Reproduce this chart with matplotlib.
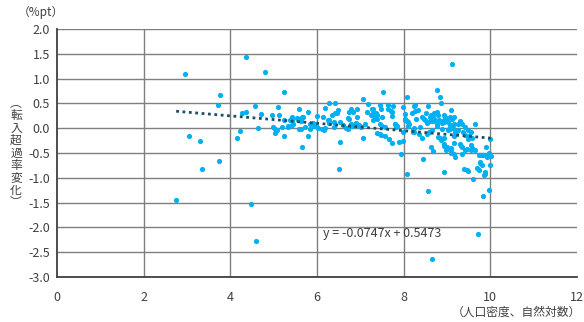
import matplotlib
matplotlib.use('Agg')
import matplotlib.pyplot as plt
import numpy as np

plt.rcParams['font.family'] = ['Noto Sans CJK JP', 'DejaVu Sans']

# scatter data: x = log population density, y = change in net in-migration rate (%pt)
density = [
    2.75, 2.95, 3.05, 3.31, 3.34, 3.71, 3.77, 3.75,
    4.15, 4.22, 4.28, 4.36, 4.37, 4.48, 4.58, 4.60, 4.63, 4.70, 4.80,
    4.96, 4.98, 5.03, 5.04, 5.07, 5.09, 5.12, 5.19, 5.24, 5.24, 5.24, 5.33, 5.42, 5.42, 5.55, 5.59, 5.59,
    5.34, 5.38, 5.44, 5.42, 5.54, 5.57, 5.64, 5.66, 5.63, 5.62, 5.65, 5.67,
    5.72, 5.79, 5.79, 5.83, 5.84, 5.91, 5.92, 5.98, 6.00,
    6.03, 6.12, 6.14, 6.15, 6.19, 6.19, 6.25, 6.27, 6.28, 6.28, 6.35, 6.41, 6.39, 6.39, 6.42, 6.46, 6.49,
    6.50, 6.52, 6.53, 6.59, 6.66, 6.72, 6.72, 6.73, 6.79, 6.82, 6.73, 6.78, 6.80,
    6.88, 6.90, 6.92, 6.92, 6.96, 6.98, 7.02, 7.06, 7.07, 7.10, 7.15, 7.18,
    7.25, 7.27, 7.29, 7.30, 7.30, 7.35, 7.36, 7.38, 7.39, 7.39, 7.45, 7.45, 7.45, 7.47, 7.47, 7.50, 7.50,
    7.53, 7.56, 7.56, 7.64, 7.64, 7.65, 7.70, 7.72, 7.72, 7.73, 7.76, 7.79, 7.81, 7.82, 7.84,
    7.90, 7.93, 7.98, 7.99, 7.99, 8.02, 8.04, 8.04, 8.07, 8.08, 8.08, 8.11, 8.11, 8.13, 8.19, 8.21, 8.22,
    8.24, 8.25, 8.25, 8.27, 8.27, 8.29, 8.32,
    8.36, 8.38, 8.43, 8.43, 8.45, 8.47, 8.49, 8.51, 8.54, 8.54, 8.55, 8.57, 8.58, 8.60, 8.61, 8.63, 8.63,
    8.65, 8.66, 8.67, 8.68, 8.68, 8.69, 8.72, 8.76, 8.77, 8.77, 8.77, 8.79, 8.80, 8.82, 8.84, 8.85, 8.86,
    8.86, 8.88, 8.88, 8.92, 8.92, 8.92, 8.93, 8.94, 8.94, 8.94, 8.95, 8.97, 9.00, 9.01,
    9.03, 9.03, 9.04, 9.06, 9.08, 9.08, 9.09, 9.09, 9.09, 9.10, 9.12, 9.12, 9.13, 9.15, 9.15, 9.15, 9.17,
    9.17, 9.18, 9.18, 9.22, 9.26, 9.26, 9.29, 9.31, 9.31, 9.33, 9.34, 9.34, 9.34, 9.38, 9.40, 9.41, 9.42,
    9.42, 9.46, 9.47, 9.49, 9.49, 9.49, 9.50, 9.55, 9.55, 9.56, 9.57, 9.57, 9.61, 9.65, 9.65, 9.69, 9.72,
    9.74, 9.75, 9.76, 9.77, 9.77, 9.80, 9.81, 9.83, 9.83, 9.85, 9.87, 9.88, 9.89, 9.90, 9.93, 9.96, 9.97,
    10.00, 10.02, 10.00,
]
migration_change = [
    -1.45, 1.09, -0.15, -0.25, -0.83, 0.47, 0.66, -0.67,
    -0.20, -0.05, 0.31, 0.32, 1.44, -1.53, 0.44, -2.28, 0.00, 0.28, 1.14,
    0.26, 0.03, -0.01, -0.10, -0.04, 0.42, 0.27, 0.03, 0.73, 0.17, -0.15, 0.03, 0.16, 0.07, 0.18, 0.39, -0.01,
    0.05, 0.16, 0.09, 0.22, 0.20, 0.17, 0.17, 0.22, 0.14, -0.01, -0.37, 0.23,
    0.02, 0.32, -0.16, 0.09, -0.01, 0.11, 0.05, 0.05, 0.25,
    0.01, -0.02, 0.22, -0.04, 0.00, 0.41, 0.17, 0.50, 0.11, 0.16, 0.26, 0.30, 0.12, 0.03, 0.51, 0.30, 0.37,
    -0.82, -0.28, 0.12, 0.06, 0.01, -0.01, 0.21, 0.32, 0.39, 0.32, 0.19, 0.09, 0.05,
    0.09, 0.11, 0.23, 0.39, 0.05, 0.07, 0.03, 0.58, -0.20, 0.08, 0.32, 0.48,
    0.26, 0.38, 0.17, 0.39, 0.30, 0.22, 0.30, 0.27, 0.19, -0.09, 0.46, 0.09, -0.12, 0.39, -0.13, 0.23, 0.05,
    0.73, 0.03, -0.16, 0.47, 0.39, -0.22, 0.35, 0.32, -0.30, 0.24, 0.44, 0.08, 0.09, 0.03, 0.05,
    -0.28, -0.52, -0.26, -0.08, 0.43, 0.28, 0.19, 0.16, -0.93, 0.62, 0.14, 0.04, 0.12, 0.09, 0.30, -0.03, -0.07,
    0.44, 0.00, -0.08, 0.35, 0.47, 0.19, 0.36,
    -0.11, 0.03, 0.23, -0.19, -0.62, 0.19, 0.16, 0.31, 0.11, -0.11, -1.26, 0.44, -0.07, 0.14, 0.23, 0.26, -0.38,
    -2.63, -0.04, 0.14, 0.22, -0.46, 0.30, 0.16, 0.05, 0.78, 0.32, 0.09, -0.17, 0.27, 0.16, -0.19, 0.63, 0.50,
    -0.23, 0.11, -0.01, 0.27, 0.16, -0.35, 0.12, -0.19, -0.32, -0.89, 0.23, -0.43, -0.38, 0.19,
    0.12, -0.04, -0.01, 0.22, 0.07, -0.01, 0.36, -0.46, -0.51, -0.39, 1.30, 0.19, 0.01, 0.08, -0.16, -0.29, 0.23,
    -0.52, -0.08, -0.59, -0.05, 0.09, -0.04, 0.11, 0.15, -0.32, -0.35, 0.09, -0.38, -0.52, -0.08, -0.82, -0.43, 0.03,
    -0.14, -0.85, -0.42, -0.03, -0.22, -0.86, -0.15, -0.08, -0.34, -0.43, -0.19, -0.40, -1.03, 0.08, -0.44, -0.81, -2.14,
    -0.85, -0.55, -0.69, -0.54, -0.71, -0.75, -0.54, -0.55, -1.36, -0.95, -0.93, -0.89, -0.55, -0.38, -0.58, -0.51, -1.24,
    -0.75, -0.56, -0.22,
]

# linear trend from the chart label
slope = -0.0747
intercept = 0.5473
trend_label = 'y = -0.0747x + 0.5473'

x_ticks = [0, 2, 4, 6, 8, 10, 12]
y_ticks = [-3.0, -2.5, -2.0, -1.5, -1.0, -0.5, 0.0, 0.5, 1.0, 1.5, 2.0]

fig = plt.figure(figsize=(5.84, 3.22), dpi=100)
ax = fig.add_axes([57 / 584, 45 / 322, 520 / 584, 248 / 322])

# grid, drawn by hand so there is no line at x=12
for yv in y_ticks:
    ax.axhline(yv, color='#7f7f7f', lw=1.0, zorder=0)
for xv in x_ticks[1:-1]:
    ax.axvline(xv, color='#7f7f7f', lw=1.0, zorder=0)

ax.scatter(density, migration_change, s=14, color='#00b0f0', linewidths=0, zorder=3)

tx = np.array([min(density), max(density)])
ax.plot(tx, slope * tx + intercept, color='#1b4f63', lw=2,
        linestyle=(0, (1, 1.3)), zorder=4)

ax.text(6.14, -2.12, trend_label, fontsize=9, color='#404040',
        ha='left', va='center')

ax.set_xlim(0, 12)
ax.set_ylim(-3, 2)
ax.set_xticks(x_ticks)
ax.set_yticks(y_ticks)
ax.set_xticklabels([str(v) for v in x_ticks])
ax.set_yticklabels(['%.1f' % v for v in y_ticks])
ax.tick_params(length=0, labelsize=9, labelcolor='#404040')
ax.tick_params(axis='x', pad=10)
ax.tick_params(axis='y', pad=5)

for s in ['top', 'right']:
    ax.spines[s].set_visible(False)
for s in ['left', 'bottom']:
    ax.spines[s].set_color('#404040')
    ax.spines[s].set_linewidth(1.3)

fig.text(41 / 584, 1 - 12 / 322, '（%pt）', fontsize=8.5, color='#404040',
         ha='center', va='center')
fig.text(516 / 584, 1 - 312 / 322, '（人口密度、自然対数）', fontsize=8.5,
         color='#404040', ha='center', va='center')

ylab = '\n'.join(['︵', '転', '入', '超', '過', '率', '変', '化', '︶'])
fig.text(16 / 584, 1 - 153 / 322, ylab, fontsize=8.5, color='#404040',
         ha='center', va='center', linespacing=0.95)

fig.savefig('out.png', dpi=100)
